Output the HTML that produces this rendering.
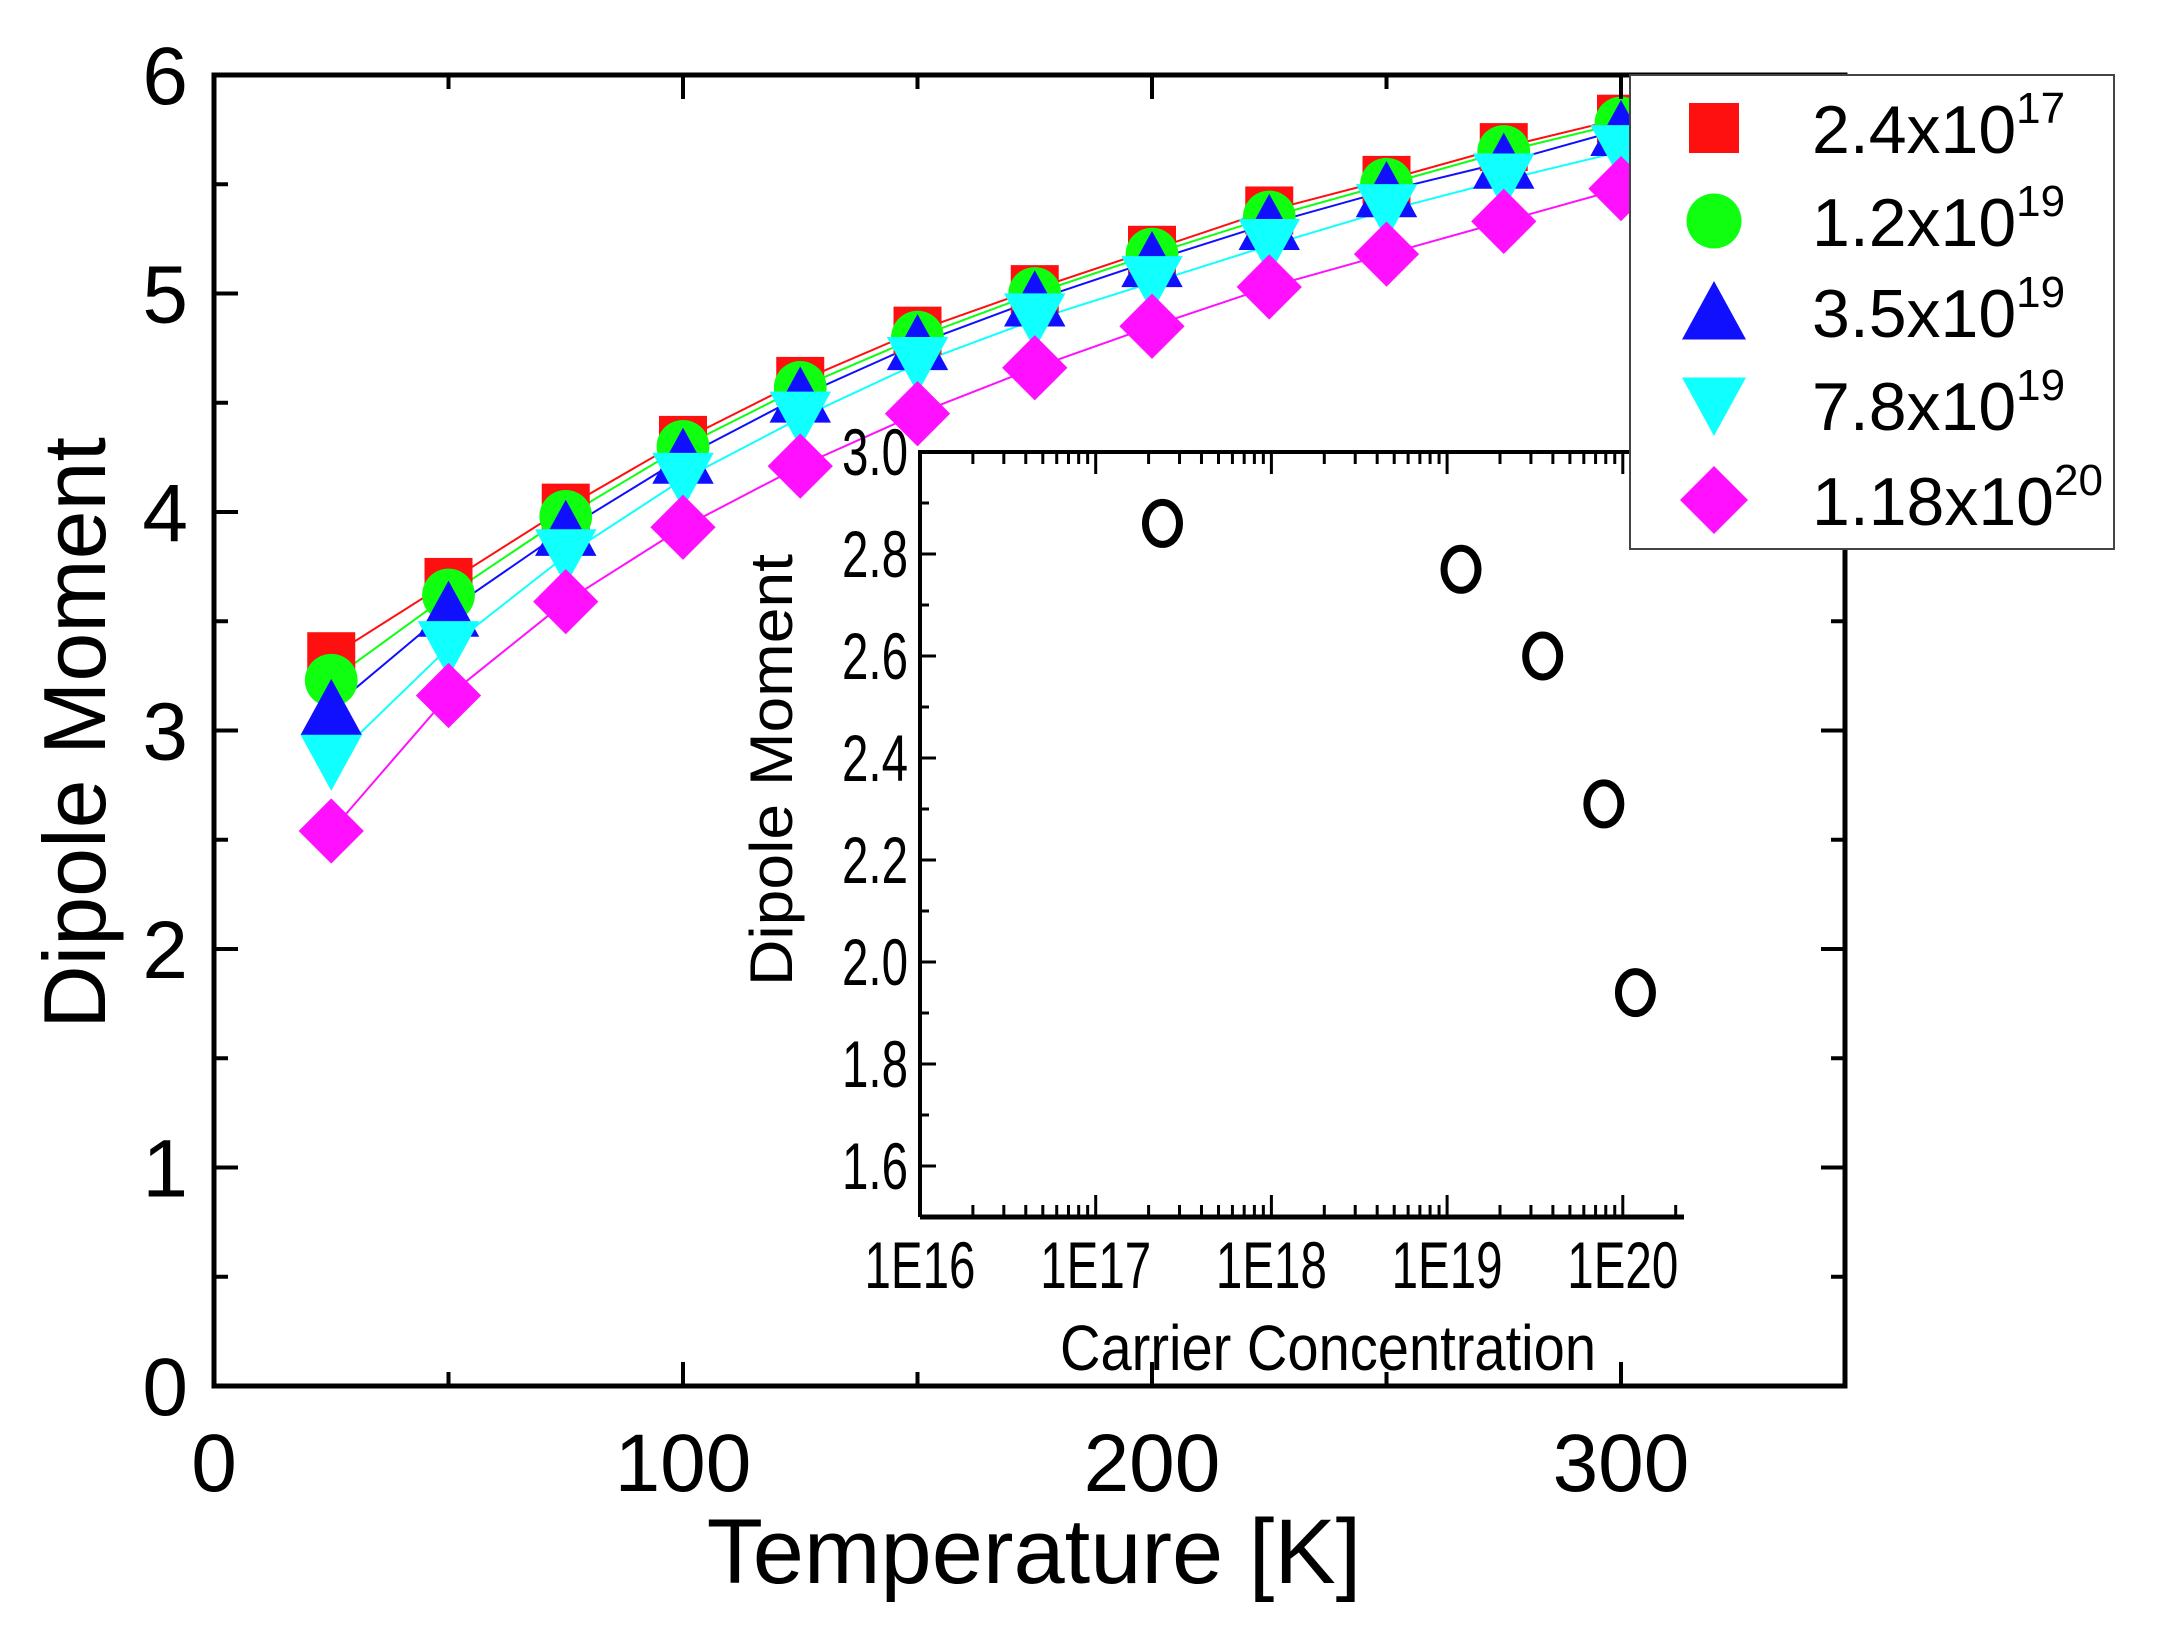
<!DOCTYPE html>
<html><head><meta charset="utf-8">
<style>html,body{margin:0;padding:0;background:#fff}svg{display:block}text{font-family:"Liberation Sans",sans-serif}</style>
</head><body>
<svg id="chart" width="2157" height="1633" viewBox="0 0 2157 1633" xmlns="http://www.w3.org/2000/svg">
<g id="main"></g>
<g id="inset"></g>
<g id="legend"></g>
</svg>
<script>
const temps = [25,50,75,100,125,150,175,200,225,250,275,300];
const seriesLabels = ["2.4", "1.2", "3.5", "7.8", "1.18"];
const seriesExps = ["17","19","19","19","20"];
const seriesRed = [3.34,3.68,4.02,4.33,4.60,4.83,5.02,5.20,5.38,5.52,5.67,5.80];
const seriesGreen = [3.23,3.62,3.98,4.30,4.57,4.80,5.00,5.18,5.35,5.50,5.65,5.78];
const seriesBlue = [3.10,3.55,3.92,4.25,4.53,4.77,4.97,5.15,5.32,5.47,5.60,5.75];
const seriesCyan = [2.86,3.38,3.80,4.15,4.43,4.68,4.88,5.05,5.22,5.38,5.52,5.65];
const seriesMagenta = [2.54,3.16,3.59,3.93,4.21,4.45,4.66,4.85,5.03,5.18,5.33,5.48];
const xTicks = [0,100,200,300];
const yTicks = [0,1,2,3,4,5,6];
const insetConc = [2.4e17,1.2e19,3.5e19,7.8e19,1.18e20];
const insetDipole = [2.86,2.77,2.60,2.31,1.94];
const insetXTicks = [16,17,18,19,20];
const insetYTicks = [1.6,1.8,2.0,2.2,2.4,2.6,2.8,3.0];

const NS="http://www.w3.org/2000/svg";
function mk(parent,tag,attrs,txt){const e=document.createElementNS(NS,tag);for(const k in attrs)e.setAttribute(k,attrs[k]);if(txt!==undefined)e.textContent=txt;parent.appendChild(e);return e;}

const L=214,R=1845,T=75,B=1386;
const X=v=>L+v*4.69;
const Y=v=>B-(v/6)*(B-T);
const main=document.getElementById('main');
const styles=[
 {c:'#ff1010',m:'square',d:seriesRed,n:'red-square'},
 {c:'#10ff10',m:'circle',d:seriesGreen,n:'green-circle'},
 {c:'#1010ff',m:'up',d:seriesBlue,n:'blue-triangle'},
 {c:'#10ffff',m:'down',d:seriesCyan,n:'cyan-triangle'},
 {c:'#ff10ff',m:'diamond',d:seriesMagenta,n:'magenta-diamond'}];
function marker(g,type,x,y,c,s){
 let e;
 if(type==='square')e=mk(g,'rect',{x:x-s*0.5,y:y-s*0.5,width:s,height:s,fill:c});
 else if(type==='circle')e=mk(g,'ellipse',{cx:x,cy:y,rx:s*0.55,ry:s*0.55,fill:c});
 else if(type==='up')e=mk(g,'polygon',{points:`${x},${y-s*0.62} ${x-s*0.64},${y+s*0.55} ${x+s*0.64},${y+s*0.55}`,fill:c});
 else if(type==='down')e=mk(g,'polygon',{points:`${x},${y+s*0.62} ${x-s*0.64},${y-s*0.55} ${x+s*0.64},${y-s*0.55}`,fill:c});
 else e=mk(g,'polygon',{points:`${x},${y-s*0.68} ${x+s*0.68},${y} ${x},${y+s*0.68} ${x-s*0.68},${y}`,fill:c});
 return e;
}
styles.forEach(st=>{
 const pts=temps.map((t,i)=>X(t)+','+Y(st.d[i])).join(' ');
 const pl=mk(main,'polyline',{points:pts,fill:'none',stroke:st.c,'stroke-width':2});
 
 
});
styles.forEach(st=>{
 temps.forEach((t,i)=>{
  const e=marker(main,st.m,X(t),Y(st.d[i]),st.c,48);
  
  
 });
});
const fr=mk(main,'rect',{x:L,y:T,width:R-L,height:B-T,fill:'none',stroke:'#000','stroke-width':5});


for(let v=50;v<350;v+=50){
 const len=(v%100===0)?24:14;
 mk(main,'line',{x1:X(v),x2:X(v),y1:B,y2:B-len,stroke:'#000','stroke-width':4});
 mk(main,'line',{x1:X(v),x2:X(v),y1:T,y2:T+len,stroke:'#000','stroke-width':4});
}
xTicks.forEach(v=>{
 const t=mk(main,'text',{x:X(v),y:1491,'font-size':82,'text-anchor':'middle'},String(v));
 
 
});
for(let v=0.5;v<6;v+=0.5){
 const len=(Math.abs(v-Math.round(v))<0.01)?24:14;
 mk(main,'line',{x1:L,x2:L+len,y1:Y(v),y2:Y(v),stroke:'#000','stroke-width':4});
 mk(main,'line',{x1:R,x2:R-len,y1:Y(v),y2:Y(v),stroke:'#000','stroke-width':4});
}
yTicks.forEach(v=>{
 const t=mk(main,'text',{x:188,y:Y(v)+29,'font-size':82,'text-anchor':'end'},String(v));
 
 
});
let tt=mk(main,'text',{x:1034,y:1583,'font-size':92,'text-anchor':'middle'},'Temperature [K]');

tt=mk(main,'text',{x:0,y:0,'font-size':88,'text-anchor':'middle',transform:'translate(105,733) rotate(-90)'},'Dipole Moment');


const inset=document.getElementById('inset');
const IL=920,IR=1684,IT=452,IB=1217;
const IX=d=>IL+(d-16)*175.7;
const IY=v=>IB-(v-1.5)/1.5*(IB-IT);
mk(inset,'rect',{x:IL,y:IT,width:IR-IL,height:IB-IT,fill:'#fff',stroke:'none'});
mk(inset,'polyline',{points:`${IL},${IB} ${IL},${IT} ${IR},${IT}`,fill:'none',stroke:'#000','stroke-width':4});
mk(inset,'line',{x1:IL,x2:IR,y1:IB,y2:IB,stroke:'#000','stroke-width':5});
for(let d=16;d<=20;d++){
 for(let m=1;m<=9;m++){
  const xv=IX(d+Math.log10(m));
  if(xv>IR)continue;
  const len=m===1?22:12;
  mk(inset,'line',{x1:xv,x2:xv,y1:IB,y2:IB-len,stroke:'#000','stroke-width':3});
  mk(inset,'line',{x1:xv,x2:xv,y1:IT,y2:IT+len,stroke:'#000','stroke-width':3});
 }
}
for(let v=1.5;v<=3.001;v+=0.1){
 const major=Math.round(v*10)%2===0;
 mk(inset,'line',{x1:IL,x2:IL+(major?16:9),y1:IY(v),y2:IY(v),stroke:'#000','stroke-width':3});
}
insetXTicks.forEach(d=>{
 const t=mk(inset,'text',{x:IX(d),y:1288,'font-size':66,'text-anchor':'middle',transform:`translate(${IX(d)},0) scale(0.72,1) translate(${-IX(d)},0)`},'1E'+d);
 
 
});
insetYTicks.forEach(v=>{
 const t=mk(inset,'text',{x:908,y:IY(v)+23,'font-size':66,'text-anchor':'end',transform:`translate(908,0) scale(0.72,1) translate(-908,0)`},v.toFixed(1));
 
 
});
tt=mk(inset,'text',{x:1328,y:1370,'font-size':64,'text-anchor':'middle',textLength:536,lengthAdjust:'spacingAndGlyphs'},'Carrier Concentration');

tt=mk(inset,'text',{x:0,y:0,'font-size':60,'text-anchor':'middle',textLength:432,lengthAdjust:'spacingAndGlyphs',transform:'translate(792,770) rotate(-90)'},'Dipole Moment');

insetConc.forEach((c,i)=>{
 const e=mk(inset,'ellipse',{cx:IX(Math.log10(c)),cy:IY(insetDipole[i]),rx:17,ry:21,fill:'none',stroke:'#000','stroke-width':7});
 
 
});

const lg=document.getElementById('legend');
const lb=mk(lg,'rect',{x:1630,y:75,width:484,height:474,fill:'#fff',stroke:'#444','stroke-width':2});

const rows=[128,221,312,405,500];
styles.forEach((st,i)=>{
 const g=mk(lg,'g',{});
 
 
 marker(g,st.m,1714,rows[i],st.c,50);
 const t=mk(g,'text',{x:1812,y:rows[i]+25,'font-size':68},seriesLabels[i]+'x10');
 mk(t,'tspan',{dy:-30,'font-size':44},seriesExps[i]);
});
</script>
</body></html>
